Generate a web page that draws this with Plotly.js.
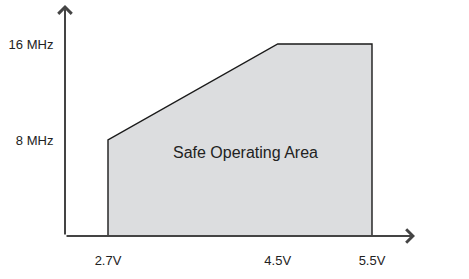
<!DOCTYPE html>
<html><head><meta charset="utf-8">
<script src="https://cdn.plot.ly/plotly-3.0.1.min.js"></script>
<style>html,body{margin:0;padding:0;background:#fff}#chart{width:469px;height:279px}</style>
</head><body><div id="chart"></div>
<script>
// Safe operating area boundary (voltage in V, frequency in MHz)
const voltage = [2.7, 2.7, 4.5, 5.5, 5.5];
const frequency = [0, 8, 16, 16, 0];
const xTickVals = [2.7, 4.5, 5.5];
const xTickText = ['2.7V', '4.5V', '5.5V'];
const yTickVals = [8, 16];
const yTickText = ['8 MHz', '16 MHz'];
const areaLabel = 'Safe Operating Area';

const xMin = 2.244, xMax = 5.956, yMin = 0, yMax = 19.25;

const trace = {
  x: voltage, y: frequency, type: 'scatter', mode: 'lines',
  fill: 'toself', fillcolor: '#dcdddf',
  line: {color: '#1a1a1a', width: 1.4}, hoverinfo: 'skip'
};

const layout = {
  width: 469, height: 279,
  margin: {l: 65, r: 54, t: 5, b: 43},
  paper_bgcolor: '#fff', plot_bgcolor: '#fff',
  showlegend: false,
  font: {family: 'Liberation Sans, Arial, sans-serif', size: 13, color: '#222'},
  xaxis: {range: [xMin, xMax], tickvals: xTickVals, ticktext: xTickText,
    showgrid: false, zeroline: false, showline: false,
    ticks: 'outside', ticklen: 12, tickcolor: 'rgba(0,0,0,0)', fixedrange: true},
  yaxis: {range: [yMin, yMax], tickvals: yTickVals, ticktext: yTickText,
    showgrid: false, zeroline: false, showline: false,
    ticks: 'outside', ticklen: 8, tickcolor: 'rgba(0,0,0,0)', fixedrange: true},
  annotations: [
    {x: xMax, y: 0, ax: xMin, ay: 0, xref: 'x', yref: 'y', axref: 'x', ayref: 'y',
     text: '', showarrow: true, arrowhead: 4, arrowsize: 1.3, arrowwidth: 2, arrowcolor: '#444'},
    {x: xMin, y: yMax, ax: xMin, ay: 0, xref: 'x', yref: 'y', axref: 'x', ayref: 'y',
     text: '', showarrow: true, arrowhead: 4, arrowsize: 1.3, arrowwidth: 2, arrowcolor: '#444'},
    {x: 4.155, y: 7, xref: 'x', yref: 'y', text: areaLabel, showarrow: false,
     font: {size: 16, color: '#222'}}
  ]
};

Plotly.newPlot('chart', [trace], layout, {displayModeBar: false, staticPlot: true});
</script></body></html>
